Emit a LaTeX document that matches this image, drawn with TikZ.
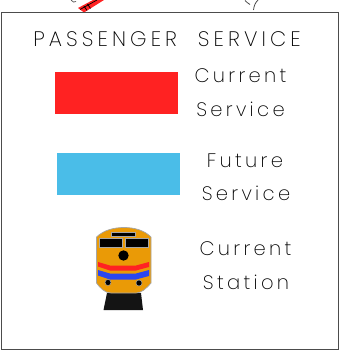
\documentclass[tikz,border=0pt]{standalone}
\usepackage{fontspec}
\setmainfont{Poppins ExtraLight}[LetterSpace=17]
\newfontfamily\ttlfont{Poppins ExtraLight}[LetterSpace=19.5]
\definecolor{railred}{HTML}{FF2222}
\definecolor{railblue}{HTML}{4ABDE8}
\definecolor{trainorange}{HTML}{EA9A06}
\definecolor{trainblue}{HTML}{2A46F0}
\tikzset{
  lbl/.style={font=\fontsize{19.5}{19.5}\selectfont,text=black,inner sep=0pt,anchor=base},
  ttl/.style={font=\ttlfont\fontsize{21}{21}\selectfont,text=black,inner sep=0pt,anchor=base},
  swatch/.style={inner sep=0pt,minimum width=#1,minimum height=42pt,anchor=north west}
}
\begin{document}
\begin{tikzpicture}[x=1pt,y=-1pt]
\useasboundingbox (0,0) rectangle (344,350);
\fill[white] (0,0) rectangle (344,350);
% clipped fragments at the top
\fill[railred] (78,8) -- (93,0) -- (104,0) -- (84,12.5) -- cycle;
\draw[black,line width=.7pt] (80,9.5) -- (97,0) (84,6) -- (87,10.5) (87.5,4) -- (90.5,8.5);
\draw[black!70,line width=.7pt] (71,0) .. controls (72,2) and (75,3) .. (76,1.5);
\draw[black!70,line width=.8pt] (245,0.5) .. controls (246,2) and (248,3) .. (250,4.5) (258,0) .. controls (255,3) and (254,6) .. (253.5,10);
\draw[black!70,line width=1pt] (1,13) rectangle (338,349);
\node[ttl] (title) at (167,46.5) {PASSENGER\hspace{21pt}SERVICE};
\node[swatch=123pt,fill=railred] (cur) at (55,72) {};
\node[swatch=123pt,fill=railblue] (fut) at (57,153) {};
\node[lbl] (c1) at (240.5,83) {Current};
\node[lbl] (c2) at (240.5,116) {Service};
\node[lbl] (f1) at (245,167) {Future};
\node[lbl] (f2) at (246,200) {Service};
\node[lbl] (s1) at (245.5,255) {Current};
\node[lbl] (s2) at (246,289) {Station};
% locomotive
\fill[black!92] (107,293) -- (103.5,310) -- (143,310) -- (141,293) -- cycle;
\fill[trainorange,draw=black!35,line width=.7pt] (96.5,237) .. controls (104,230) and (114,227.5) .. (124,227.5) .. controls (134,227.5) and (144,230) .. (151,237) -- (151,283) .. controls (146,289) and (141,293) .. (136,293) -- (111,293) .. controls (105,293) and (100,288) .. (96.5,283) -- cycle;
\fill[black,draw=black!35,line width=.5pt] (111,232) rectangle (135,236);
\fill[black,draw=black!35,line width=.5pt] (99,238.5) rectangle (122.5,247.5);
\fill[black,draw=black!35,line width=.5pt] (125.5,238.5) rectangle (148.5,247.5);
\fill[black] (123.5,255.5) circle (5.2pt);
\fill[railred] (98,262) -- (110,265.5) -- (136,265.5) -- (149,262) -- (149,267) -- (136,270.5) -- (110,270.5) -- (98,266.5) -- cycle;
\fill[trainblue] (98,270) -- (110,273.5) -- (136,273.5) -- (149,270) -- (149,276) -- (136,279.5) -- (110,279.5) -- (98,275.5) -- cycle;
\fill[black,draw=black!35,line width=.5pt] (108,282.5) circle (3pt);
\fill[black,draw=black!35,line width=.5pt] (139,283) circle (3pt);
\end{tikzpicture}
\end{document}
